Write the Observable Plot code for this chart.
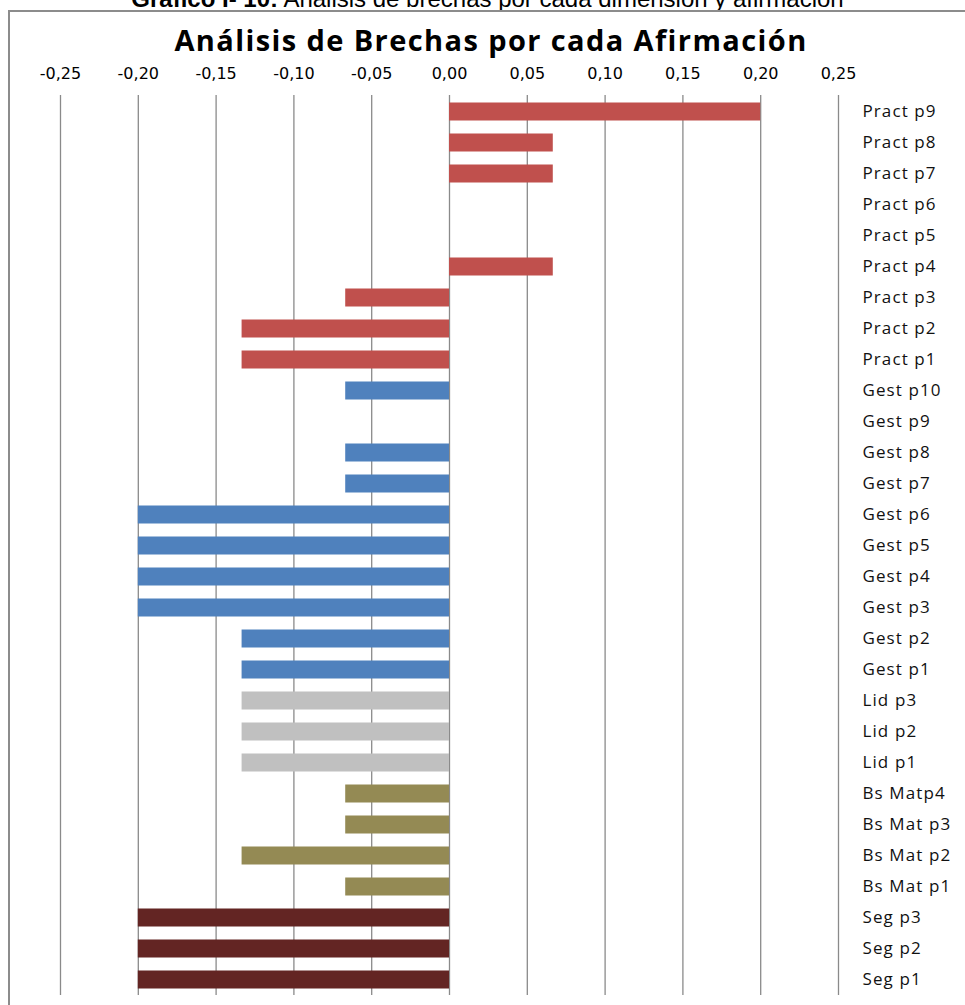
<!DOCTYPE html>
<html>
<head>
<meta charset="utf-8">
<script src="https://cdn.jsdelivr.net/npm/d3@7"></script>
<script src="https://cdn.jsdelivr.net/npm/@observablehq/plot@0.6"></script>
<style>
  html, body { margin: 0; padding: 0; background: #fff; }
  #page { position: relative; width: 965px; height: 1005px; overflow: hidden; }
  #caption {
    position: absolute; left: 0; width: 975px; top: -15px;
    font-family: "Liberation Sans", Arial, sans-serif; font-size: 24px;
    text-align: center; white-space: nowrap; color: #000;
  }
  #frame {
    position: absolute; left: 8px; top: 10px; width: 1000px; height: 1100px;
    border-left: 2px solid #8c8c8c; border-top: 2px solid #8c8c8c;
  }
  #title {
    position: absolute; left: 0; width: 982px; top: 20px;
    font-family: "Open Sans", sans-serif; font-weight: bold; font-size: 29px;
    letter-spacing: 1.4px; text-align: center; color: #000;
  }
  #chart { position: absolute; left: 0; top: 0; }
  #chart .statement-labels text { letter-spacing: 1.1px; }
</style>
</head>
<body>
<div id="page">
  <div id="caption"><b>Gráfico I- 10:</b> Análisis de brechas por cada dimensión y afirmación</div>
  <div id="frame"></div>
  <div id="title">Análisis de Brechas por cada Afirmación</div>
  <div id="chart"></div>
</div>
<script>
// Statements, listed top to bottom
const statements = [
  "Pract p9", "Pract p8", "Pract p7", "Pract p6", "Pract p5", "Pract p4", "Pract p3", "Pract p2", "Pract p1",
  "Gest p10", "Gest p9", "Gest p8", "Gest p7", "Gest p6", "Gest p5", "Gest p4", "Gest p3", "Gest p2", "Gest p1",
  "Lid p3", "Lid p2", "Lid p1",
  "Bs Matp4", "Bs Mat p3", "Bs Mat p2", "Bs Mat p1",
  "Seg p3", "Seg p2", "Seg p1"
];

// Gap for each statement
const gaps = [
  0.2, 0.0667, 0.0667, 0, 0, 0.0667, -0.0667, -0.1333, -0.1333,
  -0.0667, 0, -0.0667, -0.0667, -0.2, -0.2, -0.2, -0.2, -0.1333, -0.1333,
  -0.1333, -0.1333, -0.1333,
  -0.0667, -0.0667, -0.1333, -0.0667,
  -0.2, -0.2, -0.2
];

// Dimension each statement belongs to
const dimensions = [
  "Pract", "Pract", "Pract", "Pract", "Pract", "Pract", "Pract", "Pract", "Pract",
  "Gest", "Gest", "Gest", "Gest", "Gest", "Gest", "Gest", "Gest", "Gest", "Gest",
  "Lid", "Lid", "Lid",
  "Bs Mat", "Bs Mat", "Bs Mat", "Bs Mat",
  "Seg", "Seg", "Seg"
];

const dimensionNames = ["Pract", "Gest", "Lid", "Bs Mat", "Seg"];
const dimensionColors = ["#C0504D", "#4F81BD", "#C0C0C0", "#948A54", "#632523"];

const xTicks = [-0.25, -0.2, -0.15, -0.1, -0.05, 0, 0.05, 0.1, 0.15, 0.2, 0.25];

const rows = statements.map((s, i) => ({statement: s, gap: gaps[i], dimension: dimensions[i]}));

const fmt = d => d.toFixed(2).replace(".", ",");

const chart = Plot.plot({
  width: 965,
  height: 1005,
  marginLeft: 60,
  marginRight: 127,
  marginTop: 95,
  marginBottom: 10,
  style: {background: "transparent", overflow: "visible"},
  x: {domain: [-0.25, 0.25], ticks: xTicks, label: null},
  y: {domain: statements, padding: 0, label: null},
  color: {domain: dimensionNames, range: dimensionColors},
  marks: [
    Plot.ruleX(xTicks, {stroke: "#8a8a8a", strokeWidth: 1.3}),
    Plot.barX(rows, {
      x: "gap", y: "statement", fill: "dimension",
      insetTop: 6.5, insetBottom: 6.5
    }),
    Plot.axisX({
      anchor: "top", ticks: xTicks, tickSize: 0, tickPadding: 17,
      tickFormat: fmt, fontSize: 16, fill: "#000",
      fontFamily: "DejaVu Sans", label: null
    }),
    Plot.axisY({
      anchor: "right", tickSize: 0, tickPadding: 24, textAnchor: "start",
      fontSize: 17, fill: "#111", fontFamily: "Open Sans", label: null,
      className: "statement-labels"
    })
  ]
});

document.getElementById("chart").appendChild(chart);
</script>
</body>
</html>
